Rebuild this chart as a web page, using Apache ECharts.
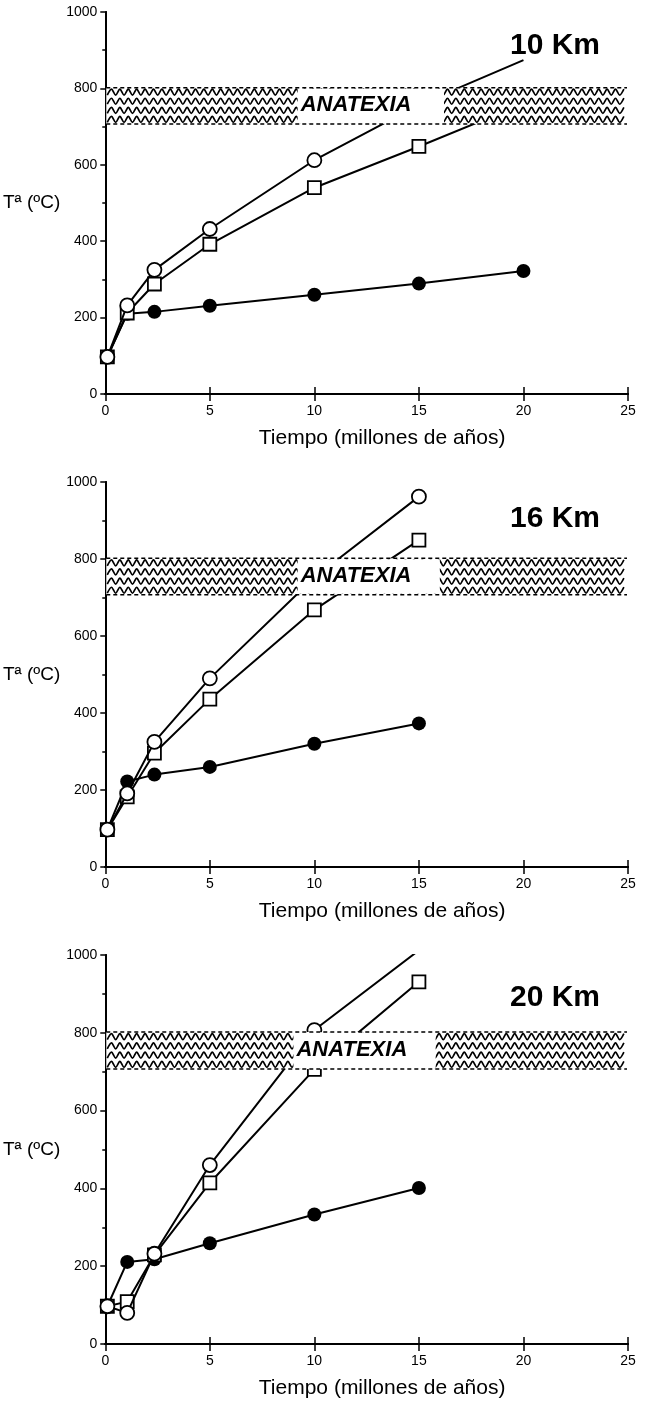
<!DOCTYPE html>
<html>
<head>
<meta charset="utf-8">
<script src="https://cdn.jsdelivr.net/npm/echarts@6/dist/echarts.min.js"></script>
<style>
html,body{margin:0;padding:0;background:#fff;}
#chart{width:646px;height:1403px;}
</style>
</head>
<body>
<div id="chart"></div>
<script>
// ---- data ----
const panelLabels = ['10 Km', '16 Km', '20 Km'];
const xTicks = [0, 5, 10, 15, 20, 25];
const yTicks = [0, 200, 400, 600, 800, 1000];

const time10 = [0.1, 1.05, 2.35, 5, 10, 15, 20];
const filled10 = [97, 210, 215, 231, 260, 289, 322];
const circle10 = [97, 232, 325, 432, 612, 757, 874];
const square10 = [97, 212, 288, 392, 540, 648, 760];

const time16 = [0.1, 1.05, 2.35, 5, 10, 15];
const filled16 = [97, 222, 240, 260, 320, 373];
const circle16 = [97, 191, 325, 490, 752, 962];
const square16 = [97, 182, 296, 436, 668, 849];

const time20 = [0.1, 1.05, 2.35, 5, 10, 15];
const filled20 = [97, 211, 218, 259, 333, 401];
const circle20 = [97, 80, 232, 460, 807, 1012];
const square20 = [97, 109, 229, 414, 706, 931];

const anatexiaRange = [707, 802];
const anatexiaLabel = 'ANATEXIA';
const labelBox10 = [9.2, 16.2];
const labelBox16 = [9.2, 16.0];
const labelBox20 = [9.0, 15.8];

// ---- build ----
const FONT = '"Liberation Sans", Arial, Helvetica, sans-serif';
const grids = [
  {left: 95, right: 18, top: 12, height: 382},
  {left: 95, right: 18, top: 482, height: 385},
  {left: 94, right: 18, top: 955, height: 389}
];
const kmLabelY = [48, 521, 1000];

const panels = [
  {t: time10, f: filled10, c: circle10, s: square10, box: labelBox10, hideLastCircle: true},
  {t: time16, f: filled16, c: circle16, s: square16, box: labelBox16, hideLastCircle: false},
  {t: time20, f: filled20, c: circle20, s: square20, box: labelBox20, hideLastCircle: false}
];

const xAxes = [], yAxes = [], series = [], graphics = [];
const xMin = xTicks[0], xMax = xTicks[xTicks.length - 1];
const yMin = yTicks[0], yMax = yTicks[yTicks.length - 1];
const plain = v => String(v);

panels.forEach((p, i) => {
  const axLine = {show: true, lineStyle: {color: '#000', width: 2}};
  xAxes.push({
    type: 'value', gridIndex: i, min: xMin, max: xMax, interval: xTicks[1] - xTicks[0],
    position: 'bottom',
    axisLine: axLine,
    axisTick: {show: true, inside: true, length: 7, lineStyle: {color: '#000', width: 1.5}},
    axisLabel: {show: true, color: '#000', fontSize: 14, fontFamily: FONT, margin: 10, formatter: plain},
    splitLine: {show: false},
    name: 'Tiempo (millones de años)', nameLocation: 'middle', nameGap: 44,
    nameTextStyle: {color: '#000', fontSize: 21, fontFamily: FONT, verticalAlign: 'middle', padding: [0, 0, 0, 31]}
  });
  xAxes.push({
    type: 'value', gridIndex: i, min: xMin, max: xMax, interval: xTicks[1] - xTicks[0],
    position: 'top',
    axisLine: axLine,
    axisTick: {show: true, inside: true, length: 7, lineStyle: {color: '#000', width: 1.5}},
    axisLabel: {show: false}, splitLine: {show: false}
  });
  yAxes.push({
    type: 'value', gridIndex: i, min: yMin, max: yMax, interval: yTicks[1] - yTicks[0],
    position: 'left',
    axisLine: axLine,
    axisTick: {show: true, inside: false, length: 5, lineStyle: {color: '#000', width: 1.5}},
    minorTick: {show: true, splitNumber: 2, length: 3, lineStyle: {color: '#000', width: 1.5}},
    axisLabel: {show: true, color: '#000', fontSize: 14, fontFamily: FONT, margin: 8, formatter: plain},
    splitLine: {show: false},
    name: 'Tª (ºC)', nameLocation: 'middle', nameRotate: 0, nameGap: 22,
    nameTextStyle: {color: '#000', fontSize: 19, fontFamily: FONT, align: 'right', verticalAlign: 'middle', padding: [0, 0, 8, 0]}
  });
  yAxes.push({
    type: 'value', gridIndex: i, min: yMin, max: yMax, interval: yTicks[1] - yTicks[0],
    position: 'right',
    axisLine: axLine,
    axisTick: {show: true, inside: true, length: 4, lineStyle: {color: '#000', width: 1.5}},
    axisLabel: {show: false}, splitLine: {show: false}
  });

  const xi = i * 2, yi = i * 2;
  const pairs = (vals, hideLast) => vals.map((v, k) => {
    if (hideLast && k === vals.length - 1) return {value: [p.t[k], v], symbol: 'none'};
    return [p.t[k], v];
  });
  const lineStyle = {color: '#000', width: 2};
  series.push({
    type: 'line', xAxisIndex: xi, yAxisIndex: yi, data: pairs(p.f, false),
    symbol: 'circle', symbolSize: 14, showAllSymbol: true,
    lineStyle: lineStyle, itemStyle: {color: '#000', borderColor: '#000', borderWidth: 0},
    z: 3, animation: false, silent: true
  });
  series.push({
    type: 'line', xAxisIndex: xi, yAxisIndex: yi, data: pairs(p.s, false),
    symbol: 'rect', symbolSize: 13, showAllSymbol: true,
    lineStyle: lineStyle, itemStyle: {color: '#fff', borderColor: '#000', borderWidth: 1.8},
    z: 4, animation: false, silent: true
  });
  series.push({
    type: 'line', xAxisIndex: xi, yAxisIndex: yi, data: pairs(p.c, p.hideLastCircle),
    symbol: 'circle', symbolSize: 14, showAllSymbol: true,
    lineStyle: lineStyle, itemStyle: {color: '#fff', borderColor: '#000', borderWidth: 1.8},
    z: 5, animation: false, silent: true
  });
  // anatexia band
  series.push({
    type: 'custom', xAxisIndex: xi, yAxisIndex: yi, z: 10, silent: true, animation: false,
    data: [[xMin, xMax, anatexiaRange[0], anatexiaRange[1], p.box[0], p.box[1]]],
    encode: {x: [0, 1, 4, 5], y: [2, 3]},
    renderItem: function (params, api) {
      const tl = api.coord([api.value(0), api.value(3)]);
      const br = api.coord([api.value(1), api.value(2)]);
      const b0 = api.coord([api.value(4), api.value(3)]);
      const b1 = api.coord([api.value(5), api.value(2)]);
      const x0 = tl[0] + 1, x1 = br[0] - 1, y0 = tl[1], y1 = br[1], h = y1 - y0;
      const children = [];
      children.push({type: 'rect', shape: {x: x0, y: y0, width: x1 - x0, height: h}, style: {fill: '#fff'}});
      const rows = 4, step = 4.2, amp = 3;
      for (let r = 0; r < rows; r++) {
        const yc = y0 + (r + 0.5) * h / rows;
        const pts = [];
        let k = 0;
        for (let x = x0 + 1; x <= x1; x += step, k++) pts.push([x, yc + (k % 2 ? -amp : amp)]);
        children.push({type: 'polyline', shape: {points: pts, smooth: 0.3},
          style: {stroke: '#000', lineWidth: 1.7, fill: null}});
      }
      children.push({type: 'rect', shape: {x: b0[0], y: y0 + 1, width: b1[0] - b0[0], height: h - 2}, style: {fill: '#fff'}});
      children.push({type: 'line', shape: {x1: x0, y1: y0, x2: x1, y2: y0},
        style: {stroke: '#000', lineWidth: 1.5, lineDash: [4, 3]}});
      children.push({type: 'line', shape: {x1: x0, y1: y1, x2: x1, y2: y1},
        style: {stroke: '#000', lineWidth: 1.5, lineDash: [4, 3]}});
      children.push({type: 'text', style: {text: anatexiaLabel, x: b0[0] + 3, y: (y0 + y1) / 2 - 1,
        fill: '#000', font: 'italic bold 22px ' + FONT, align: 'left', verticalAlign: 'middle'}});
      return {type: 'group', children: children};
    }
  });
  graphics.push({
    type: 'text', right: 46, top: kmLabelY[i] - 17, z: 100,
    style: {text: panelLabels[i], fill: '#000', font: 'bold 30px ' + FONT}
  });
});

const chart = echarts.init(document.getElementById('chart'), null, {renderer: 'canvas'});
chart.setOption({
  backgroundColor: '#fff',
  animation: false,
  grid: grids,
  xAxis: xAxes,
  yAxis: yAxes,
  series: series,
  graphic: graphics
});
</script>
</body>
</html>
